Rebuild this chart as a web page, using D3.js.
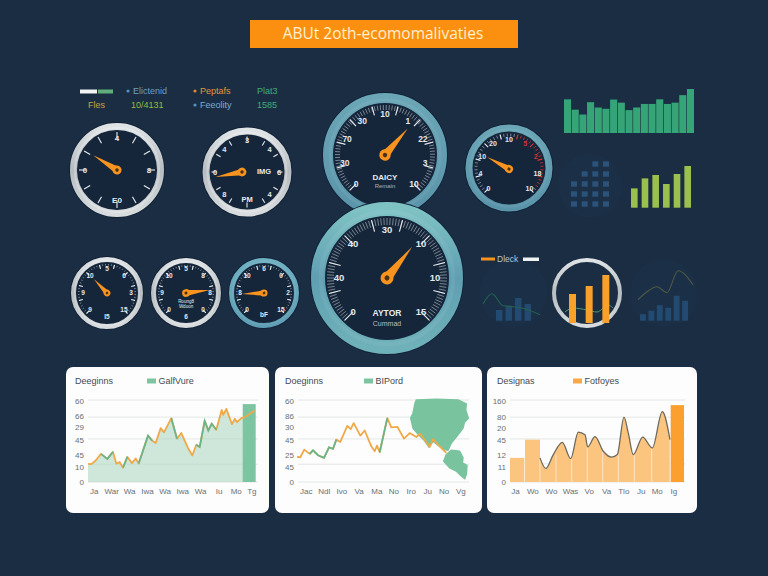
<!DOCTYPE html>
<html><head><meta charset="utf-8">
<script src="https://cdn.jsdelivr.net/npm/d3@7/dist/d3.min.js"></script>
<style>html,body{margin:0;padding:0;background:#1a2d43;overflow:hidden}svg{display:block}text{font-family:"Liberation Sans",Arial,sans-serif}</style>
</head><body><svg id="c" width="768" height="576"></svg>
<script>
// ---------- DATA ----------
const titleText = "ABUt 2oth-ecomomalivaties";
const legendTexts = ["Elictenid","Peptafs","Plat3","Fles","10/4131","Feeolity","1585"];
const gaugeNames = ["g1","g2","g3","g4","g5","g6","g7","g8"];
const gaugeValues = [28.5,12.8,65,64.4,27.3,34,80.7,15.7];
const gaugeLabels = [
  ["","0","","4","","8",""],
  ["8","0","4","3","4","6","4"],
  ["0","30","70","30","10","1","22","3","10"],
  ["0","40","40","30","10","10","15"],
  ["0","4","10","20","10","5","2","18","10"],
  ["9","9","10","5","6","3","15"],
  ["0","9","10","5","8","8","0"],
  ["0","8","10","6","0","2","15"]
];
const gaugeCaptions = [
  ["E0"],["IMG","PM"],["DAICY","Remain"],["AYTOR","Cummad"],[],["I5"],["Roung8","Wdoon","6"],["bF"]
];
const greenBars = [76.5,53,42,70,58,55,76,69,52,58,66,66,76.5,66,69,86,100];
const limeBars = [19.3,29.3,32.7,23.7,33.7,41.7];
const dotColumns = [3,4,5,5];
const midLegend = "Dleck";
const mini1Bars = [10.7,15,22.7,16.7];
const mini1Line = [[0,17],[9,27],[20,15],[30,14],[42,12],[57,6]];
const mini2Bars = [6.5,10,15.5,13,25,20];
const mini2Line = [[0,21],[9,29],[19,34],[29,28],[40,50],[55,36]];
const ringBars = [29,37,48];
const ringLine = [[0,11],[8,15],[22,13],[32,11],[43,18],[48,15]];

const card1Title="Deeginns", card1Legend="GalfVure";
const card1X=[0,3.3,7.7,13,19.3,25,28.3,31.7,35,39.3,44,47.7,50.7,60,64.3,67.7,72.7,76,83.3,89,93.3,100,104.3,108.3,111.7,116.7,120.3,123.7,128.3,133.7,135.3,138.3,144,146.7,149,153.3,156.7,166.7];
const card1Y=[13.3,13.1,15.7,20.6,16.9,22,13.5,14.5,10.4,18.4,13.8,17.2,13.5,33.9,30.2,28.5,39.4,36.3,46.7,31.7,35.8,24.9,19.4,27.3,25.6,44.8,37.7,42.6,38.2,52.7,49.1,53.5,42.3,46.2,43.8,46.7,47.4,52.3];
const card1Green=[[3,5],[8,9],[12,14],[18,19],[23,28]];
const card1Bar=[154.7,167.7,57];
const card1YLabels=["60","66","29","45","45","10","0"];
const card1XLabels=["Ja","War","Wa","Iwa","Wa","Iwa","Wa","Iu","Mo","Tg"];
const card1XTicks=[5.7,23.3,41,59,76.7,94.3,112,130.7,147.7,163.3];
const yTickVals=[59.5,48,40,31,20,11,0];
const gridVals=[60,47.5,31.5,13,0];

const card2Title="Doeginns", card2Legend="BIPord";
const card2X=[-1,2.3,6.3,11.7,15,20,26,31,35,38.3,42.3,49.3,52.7,55.7,62.3,66.7,73.3,76.7,79,81.7,89.3,93.3,99.3,106,111.7,118.3,122.3,131.7,135,140,148.3];
const card2Y=[18.4,18.1,23.7,20.6,23.2,19.6,17.7,25.4,24.2,31,29.3,41.1,38.7,43.1,33.9,37.7,26.1,22.5,26.6,21.8,46.7,39.9,40.4,31.7,35.8,32.9,35.3,25.6,31.4,27.3,21.3];
const card2Green=[[3,9],[19,20]];
const card2YLabels=["60","86","30","45","25","45","0"];
const card2XLabels=["Jac","Ndl","Ivo","Va","Ma","No","Iro","Ju","No","Vg"];
const card2XTicks=[7.7,25.7,43.3,60.7,78.3,95.3,112.7,129.3,145.7,162.3];
const regionA=[[118.3,60],[138.3,60.5],[160,60],[168.3,57.1],[167.7,52.7],[170.3,46.7],[166.3,43.5],[165,39.4],[160,34.6],[153.3,28.5],[150,23.2],[145,24.2],[139.3,27.3],[135,29.8],[131,25.6],[125.7,31],[120.7,34.6],[115,39.4],[112.7,46.7],[115,50.3],[117,57.6]];
const regionB=[[148.3,20.1],[153.3,23.2],[161.7,22.5],[165,17.7],[164.3,14],[169,12.1],[168.3,5.6],[166.7,2.4],[163.3,4.4],[158.3,8],[151.7,10.4],[145.7,15.2]];

const card3Title="Designas", card3Legend="Fotfoyes";
const card3X=[30,35.7,43.3,52.3,60.7,68.3,75,77.7,85,93.3,101.7,107.3,114,118.3,123.3,132.7,142.3,152.3,160];
const card3Y=[47.1,26.4,53.5,77.4,45.8,97.4,92.2,68.4,88.4,60,48.4,53.5,126.4,95.5,53.5,87.7,66.4,137.4,82.6];
const card3Bars=[[0,14.3,47.1],[15,30,82.6]];
const card3LastBar=[160.7,174,150];
const card3Seps=[30,46,61.7,77.3,92.7,108.3,124.3,141.7,160];
const card3YLabels=["160","80","20","45","12","11","0"];
const card3XLabels=["Ja","Wo","Wo","Was","Vo","Va","Tlo","Ju","Mo","Ig"];
const card3XTicks=[5,22.3,41,60,78.7,96,113.3,130.7,146.7,163.3];
const y3TickVals=[158.7,126.5,105,82.6,53.5,29.7,0];
const grid3Vals=[160,126.5,84,35.5,0];

// ---------- LAYOUT ----------
const C={bg:"#1a2d43",dial:"#15263b",orange:"#f7931e",green:"#7cc5a0",lineO:"#efa948",lineG:"#69b68c",faint:"#1b2f46"};
const gaugeLayout={
 g1:{cx:117,cy:170,r:47,w:7,ring:"silver",labelR:32,fs:8,major:30,majorLen:7,minor:0,capOff:[[0,31]]},
 g2:{cx:247,cy:172,r:44.5,w:7,ring:"silver",labelR:32,fs:7.5,major:30,majorLen:5,minor:0,px:-5,capOff:[[10,0],[0,28]]},
 g3:{cx:385,cy:155,r:62,w:10,ring:"teal",labelR:41,fs:8.5,major:30,majorLen:9,minor:3.5,minorLen:5,capOff:[[0,22.5,8],[0,31,6,.7]]},
 g4:{cx:387,cy:278,r:76,w:14,ring:"aqua",labelR:48,fs:9.5,major:30,majorLen:12,minor:3,minorLen:7,capOff:[[0,36,8.5],[0,46,7,.75]]},
 g5:{cx:509,cy:168,r:43.5,w:7,ring:"teal",labelR:29,fs:7,major:30,majorLen:5,minor:6,minorLen:3,red:true,py:1,capOff:[]},
 g6:{cx:107,cy:293,r:36,w:5,ring:"silver",labelR:24,fs:6.5,major:30,majorLen:4,minor:6,minorLen:1.5,capOff:[[0,24]]},
 g7:{cx:186,cy:293,r:35,w:5,ring:"silver",labelR:24,fs:6.5,major:30,majorLen:4,minor:6,minorLen:1.5,capOff:[[0,8.5,4.5],[0,14,4.5],[0,24]]},
 g8:{cx:264,cy:293,r:35,w:5,ring:"tealBright",labelR:24,fs:6.5,major:30,majorLen:4,minor:6,minorLen:1.5,capOff:[[0,22]]}
};
const needleLen={g1:28,g2:27,g3:35,g4:40,g5:25,g6:19,g7:24,g8:22};

const svg=d3.select("#c");
const defs=svg.append("defs");
function grad(id,stops){
  const g=defs.append("linearGradient").attr("id",id).attr("x1",0).attr("y1",0).attr("x2",0).attr("y2",1);
  stops.forEach(([o,c])=>g.append("stop").attr("offset",o).attr("stop-color",c));
}
grad("silver",[[0,"#dfe3e5"],[.5,"#b6bcc1"],[1,"#d8dcde"]]);
grad("teal",[[0,"#6aa6b6"],[1,"#5a94aa"]]);
grad("aqua",[[0,"#7fc2c4"],[.5,"#5f9fb2"],[1,"#6fb1b9"]]);
grad("tealBright",[[0,"#6fb0c2"],[1,"#5f9eb5"]]);

svg.append("rect").attr("width",768).attr("height",576).attr("fill",C.bg);

// title
svg.append("rect").attr("x",250).attr("y",20).attr("width",268).attr("height",28).attr("fill","#fb8f10");
svg.append("text").attr("x",383).attr("y",39).attr("text-anchor","middle").attr("font-size",15.5).attr("style",'font-family:"Open Sans",sans-serif').attr("fill","#fff0cf").text(titleText);

// top legend
const legG=svg.append("g").attr("font-size",9);
legG.append("rect").attr("x",80).attr("y",89.5).attr("width",17).attr("height",4).attr("fill","#f2f4f5");
legG.append("rect").attr("x",98).attr("y",89.5).attr("width",15).attr("height",4).attr("fill","#5fae7c");
[[128,91,"#4f93c0"],[195,91,"#e8852a"],[195,105,"#4f93c0"]].forEach(d=>legG.append("circle").attr("cx",d[0]).attr("cy",d[1]).attr("r",1.6).attr("fill",d[2]));
[[133,94,"#6f9fc8"],[200,94,"#e8923a"],[257,94,"#3fae7a"],[88,108,"#c8a53c"],[131,108,"#8fbf3c"],[200,108,"#79aed0"],[257,108,"#3fae7a"]].forEach((d,i)=>
  legG.append("text").attr("x",d[0]).attr("y",d[1]).attr("fill",d[2]).text(legendTexts[i]));

// gauges
const angle=d3.scaleLinear().domain([0,100]).range([-135,135]);
const polar=(r,a)=>{const t=a*Math.PI/180;return [r*Math.sin(t),-r*Math.cos(t)];};
const segLine=d3.line();
gaugeNames.forEach((name,i)=>{
  const L=gaugeLayout[name];
  const g=svg.append("g").attr("transform",`translate(${L.cx},${L.cy})`);
  const rIn=L.r-L.w;
  g.append("circle").attr("r",L.r+1).attr("fill","#122236");
  g.append("circle").attr("r",rIn).attr("fill",C.dial);
  g.append("circle").attr("r",L.r-L.w/2).attr("fill","none").attr("stroke",`url(#${L.ring})`).attr("stroke-width",L.w);
  g.append("circle").attr("r",rIn+L.w*.3).attr("fill","none").attr("stroke","#ffffff").attr("stroke-opacity",L.ring==="silver"?.25:.06).attr("stroke-width",L.w*.3);
  const isRed=a=>L.red&&a>=15&&a<=125;
  if(L.minor){
    d3.range(-135,135.01,L.minor).forEach(a=>{
      g.append("path").attr("d",segLine([polar(rIn-2,a),polar(rIn-2-L.minorLen,a)]))
       .attr("stroke",isRed(a)?"#d8322e":"#ffffff").attr("stroke-opacity",isRed(a)?1:.55).attr("stroke-width",.8);
    });
  }
  const majors=L.minor?d3.range(-135,135.01,L.major):d3.range(-150,180.01,L.major);
  majors.forEach(a=>{
    g.append("path").attr("d",segLine([polar(rIn-2,a),polar(rIn-2-L.majorLen,a)]))
     .attr("stroke",isRed(a)?"#d8322e":"#e8ecef").attr("stroke-width",1.1);
  });
  const labs=gaugeLabels[i];
  labs.forEach((t,k)=>{
    if(!t) return;
    const a=angle(100*k/(labs.length-1));
    const p=polar(L.labelR,a);
    g.append("text").attr("x",p[0]).attr("y",p[1]+L.fs*.36).attr("text-anchor","middle")
     .attr("font-size",L.fs).attr("font-weight","bold")
     .attr("fill",L.red&&(t==="5"||t==="2")?"#d8322e":"#e4e8ec").text(t);
  });
  gaugeCaptions[i].forEach((t,k)=>{
    const c=L.capOff[k];
    g.append("text").attr("x",c[0]).attr("y",c[1]).attr("text-anchor",c[0]?"start":"middle").attr("dominant-baseline","middle")
     .attr("font-size",c[2]||L.fs).attr("font-weight",c[2]<7||c[3]?"normal":"bold").attr("fill","#e6eaee").attr("fill-opacity",c[3]||1).text(t);
  });
  const len=needleLen[name], hw=Math.max(2.6,len*.125);
  const n=g.append("g").attr("transform",`translate(${L.px||0},${L.py||0}) rotate(${angle(gaugeValues[i])})`);
  n.append("path").attr("d",segLine([[-hw,0],[0,-len],[hw,0]])+"Z").attr("fill",C.orange);
  n.append("circle").attr("r",hw*1.3).attr("fill",C.orange);
  n.append("circle").attr("r",hw*.5).attr("fill","#4a3312");
});

// top-right bars
const gx=d3.scaleBand().domain(d3.range(greenBars.length)).range([564,694]).paddingInner(.08);
const gy=d3.scaleLinear().domain([0,100]).range([133,89]);
svg.append("g").selectAll("rect").data(greenBars).join("rect")
  .attr("x",(d,i)=>gx(i)).attr("width",gx.bandwidth()).attr("y",d=>gy(d)).attr("height",d=>gy(0)-gy(d)).attr("fill","#35a578");
const lx=d3.scaleBand().domain(d3.range(limeBars.length)).range([631,691]).paddingInner(.38);
const ly=d3.scaleLinear().domain([0,42]).range([207.7,165.7]);
svg.append("g").selectAll("rect").data(limeBars).join("rect")
  .attr("x",(d,i)=>lx(i)).attr("width",lx.bandwidth()).attr("y",d=>ly(d)).attr("height",d=>ly(0)-ly(d)).attr("fill","#9bc04e");
// dot matrix
const dx=d3.scalePoint().domain(d3.range(dotColumns.length)).range([574,606]);
const dy=d3.scalePoint().domain(d3.range(5)).range([204,164]);
svg.append("circle").attr("cx",590).attr("cy",186).attr("r",32).attr("fill",C.faint);
dotColumns.forEach((n,c)=>d3.range(n).forEach(r=>
  svg.append("rect").attr("x",dx(c)-3).attr("y",dy(r)-2.7).attr("width",6).attr("height",5.4).attr("fill","#2b5279")));

// mini charts
function mini(bars,line,x0,x1,band,lineCol,lineX0){
  svg.append("circle").attr("cx",(x0+x1)/2).attr("cy",293).attr("r",34).attr("fill",C.faint);
  const x=d3.scaleBand().domain(d3.range(bars.length)).range([x0,x1]).paddingInner(band);
  const y=d3.scaleLinear().domain([0,50]).range([320.7,270.7]);
  svg.append("g").selectAll("rect").data(bars).join("rect")
    .attr("x",(d,i)=>x(i)).attr("width",x.bandwidth()).attr("y",d=>y(d)).attr("height",d=>y(0)-y(d)).attr("fill","#234a70");
  const lx=d3.scaleLinear().domain([0,1]).range([lineX0,lineX0+1]);
  svg.append("path").attr("d",d3.line().x(d=>lx(d[0])).y(d=>y(d[1])).curve(d3.curveMonotoneX)(line))
    .attr("fill","none").attr("stroke",lineCol).attr("stroke-width",1.1);
}
mini(mini1Bars,mini1Line,496,531,.32,"#22634f",483);
mini(mini2Bars,mini2Line,640,688,.3,"#4f5a45",638);

// mid legend
svg.append("rect").attr("x",481).attr("y",257.5).attr("width",14).attr("height",3).attr("fill",C.orange);
svg.append("text").attr("x",497).attr("y",262).attr("font-size",8.5).attr("fill","#b8c4cf").text(midLegend);
svg.append("rect").attr("x",523).attr("y",257.5).attr("width",16).attr("height",3.5).attr("fill","#eef2f5");

// ring with bars
svg.append("circle").attr("cx",587).attr("cy",293).attr("r",33).attr("fill",C.bg).attr("stroke","url(#silver)").attr("stroke-width",4);
const rx=d3.scaleBand().domain(d3.range(ringBars.length)).range([569,607]).paddingInner(.72);
const ry=d3.scaleLinear().domain([0,48]).range([323,275]);
svg.append("path").attr("d",d3.line().x(d=>565+d[0]).y(d=>ry(d[1])).curve(d3.curveMonotoneX)(ringLine)).attr("fill","none").attr("stroke","#4a9a6a").attr("stroke-width",1);
svg.append("g").selectAll("rect").data(ringBars).join("rect")
  .attr("x",(d,i)=>rx(i)).attr("width",Math.max(7,rx.bandwidth())).attr("y",d=>ry(d)).attr("height",d=>ry(0)-ry(d)).attr("fill","#f7a02a");

// cards
function card(o){
  svg.append("rect").attr("x",o.x).attr("y",367).attr("width",o.w).attr("height",146).attr("rx",7).attr("fill","#fdfdfd");
  const g=svg.append("g");
  const x=d3.scaleLinear().domain(o.xDom).range(o.xRange);
  const y=d3.scaleLinear().domain(o.yDom).range([482,400]);
  g.selectAll("line.grid").data(o.grid).join("line").attr("class","grid")
    .attr("x1",o.xRange[0]).attr("x2",o.xRange[1]+(o.gridExt||0)).attr("y1",d=>y(d)).attr("y2",d=>y(d)).attr("stroke","#e4e6e6").attr("stroke-width",1);
  const yAxis=d3.axisLeft(y).tickValues(o.yTicks).tickSize(0).tickPadding(4).tickFormat((d,i)=>o.yLabels[i]);
  const xAxis=d3.axisBottom(x).tickValues(o.xTicks).tickSize(0).tickPadding(6).tickFormat((d,i)=>o.xLabels[i]);
  const ya=g.append("g").attr("transform",`translate(${o.xRange[0]},0)`).call(yAxis);
  const xa=g.append("g").attr("transform","translate(0,482)").call(xAxis);
  [ya,xa].forEach(a=>{a.select(".domain").remove();a.selectAll("text").attr("font-size",8).attr("fill","#6a6f74").attr("font-family",'"Liberation Sans",Arial,sans-serif');});
  g.append("text").attr("x",o.titleX).attr("y",384).attr("font-size",9).attr("fill","#444b52").text(o.title);
  g.append("rect").attr("x",o.legX).attr("y",378.5).attr("width",o.legW).attr("height",5).attr("fill",o.legCol);
  g.append("text").attr("x",o.legX+o.legW+2.5).attr("y",384).attr("font-size",9).attr("fill","#444b52").text(o.legend);
  o.draw(g,x,y);
}
function greenOverlay(g,x,y,xs,ys,ranges){
  const pts=xs.map((v,i)=>[x(v),y(ys[i])]);
  g.append("path").attr("d",d3.line()(pts)).attr("fill","none").attr("stroke",C.lineO).attr("stroke-width",1.8).attr("stroke-linejoin","round");
  ranges.forEach(([a,b])=>g.append("path").attr("d",d3.line()(pts.slice(a,b+1))).attr("fill","none").attr("stroke",C.lineG).attr("stroke-width",1.8));
}
card({x:66,w:203,xDom:[0,170],xRange:[88,258],yDom:[0,60],grid:gridVals,yTicks:yTickVals,yLabels:card1YLabels,xTicks:card1XTicks,xLabels:card1XLabels,
  title:card1Title,titleX:75,legend:card1Legend,legX:147,legW:9,legCol:C.green,
  draw(g,x,y){
    const pts=card1X.map((v,i)=>[v,card1Y[i]]);
    g.append("path").attr("d",d3.area().x(d=>x(d[0])).y0(y(0)).y1(d=>y(d[1]))(pts)).attr("fill","#a9d5bd").attr("fill-opacity",.55);
    g.append("rect").attr("x",x(card1Bar[0])).attr("width",x(card1Bar[1])-x(card1Bar[0])).attr("y",y(card1Bar[2])).attr("height",y(0)-y(card1Bar[2])).attr("fill",C.green);
    greenOverlay(g,x,y,card1X,card1Y,card1Green);
  }});
card({x:275,w:207,xDom:[0,170],xRange:[298,468],yDom:[0,60],grid:gridVals,yTicks:yTickVals,yLabels:card2YLabels,xTicks:card2XTicks,xLabels:card2XLabels,
  title:card2Title,titleX:285,legend:card2Legend,legX:364,legW:9,legCol:C.green,gridExt:1,
  draw(g,x,y){
    const poly=d3.line().x(d=>x(d[0])).y(d=>y(d[1])).curve(d3.curveLinearClosed);
    [regionA,regionB].forEach(r=>g.append("path").attr("d",poly(r)).attr("fill","#79c49e").attr("stroke","#79c49e").attr("stroke-width",1.5).attr("stroke-linejoin","round"));
    greenOverlay(g,x,y,card2X,card2Y,card2Green);
  }});
card({x:487,w:210,xDom:[0,174],xRange:[510,684],yDom:[0,160],grid:grid3Vals,yTicks:y3TickVals,yLabels:card3YLabels,xTicks:card3XTicks,xLabels:card3XLabels,
  title:card3Title,titleX:497,legend:card3Legend,legX:573,legW:9,legCol:"#f7a945",gridExt:1,
  draw(g,x,y){
    const pts=card3X.map((v,i)=>[v,card3Y[i]]);
    g.append("path").attr("d",d3.area().x(d=>x(d[0])).y0(y(0)).y1(d=>y(d[1])).curve(d3.curveMonotoneX)(pts)).attr("fill","#fbc57f");
    g.selectAll("rect.b").data(card3Bars).join("rect").attr("class","b").attr("x",d=>x(d[0])).attr("width",d=>x(d[1])-x(d[0])).attr("y",d=>y(d[2])).attr("height",d=>y(0)-y(d[2])).attr("fill","#fbc57f");
    g.selectAll("line.s").data(card3Seps).join("line").attr("class","s").attr("x1",d=>x(d)).attr("x2",d=>x(d)).attr("y1",y(0)).attr("y2",d=>y(curveAt(d))).attr("stroke","#fff").attr("stroke-opacity",.6).attr("stroke-width",.9);
    g.append("path").attr("d",d3.line().x(d=>x(d[0])).y(d=>y(d[1])).curve(d3.curveMonotoneX)(pts)).attr("fill","none").attr("stroke","#6e6a5e").attr("stroke-width",1.3);
    g.append("rect").attr("x",x(card3LastBar[0])).attr("width",x(card3LastBar[1])-x(card3LastBar[0])).attr("y",y(card3LastBar[2])).attr("height",y(0)-y(card3LastBar[2])).attr("fill","#fb9f2f");
  }});
// height of a separator: the reading nearest to its position on the curve
function curveAt(d){return card3Y[d3.bisectCenter(card3X,d)];}
</script></body></html>
